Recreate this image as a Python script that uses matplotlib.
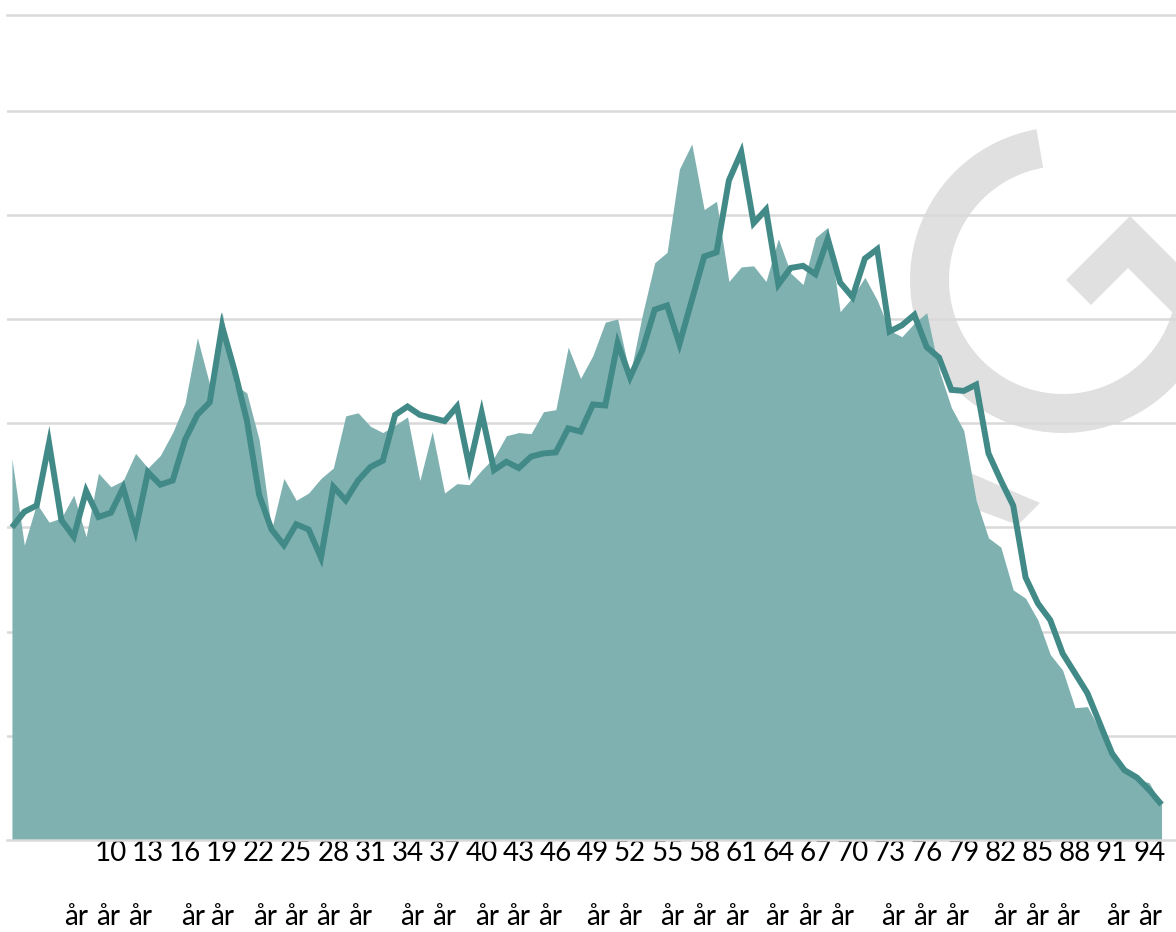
import numpy as np
import matplotlib
matplotlib.use("Agg")
import matplotlib.pyplot as plt
from matplotlib.patches import Wedge, Polygon

# ages 2..95 (one point per year)
ages = list(range(2, 96))

# filled series (light teal area)
area_vals = [3.66, 2.83, 3.23, 3.05, 3.09, 3.31, 2.91, 3.52, 3.39, 3.45,
             3.71, 3.57, 3.69, 3.91, 4.19, 4.82, 4.37, 5.07, 4.37, 4.29,
             3.84, 2.98, 3.47, 3.26, 3.33, 3.47, 3.57, 4.07, 4.10, 3.97,
             3.91, 3.98, 4.06, 3.45, 3.92, 3.33, 3.42, 3.41, 3.55, 3.67,
             3.88, 3.91, 3.90, 4.11, 4.13, 4.73, 4.43, 4.65, 4.97, 5.00,
             4.46, 5.04, 5.54, 5.64, 6.44, 6.68, 6.05, 6.13, 5.36, 5.50,
             5.51, 5.36, 5.77, 5.44, 5.33, 5.78, 5.88, 5.07, 5.21, 5.40,
             5.18, 4.89, 4.83, 4.96, 5.06, 4.51, 4.15, 3.93, 3.26, 2.90,
             2.81, 2.40, 2.32, 2.11, 1.78, 1.63, 1.27, 1.28, 1.06, 0.82,
             0.67, 0.58, 0.55, 0.34]

# line series (dark teal)
line_vals = [3.00, 3.15, 3.21, 3.81, 3.07, 2.91, 3.35, 3.10, 3.14, 3.38,
             2.97, 3.53, 3.41, 3.45, 3.84, 4.08, 4.20, 4.93, 4.51, 4.03,
             3.31, 2.98, 2.83, 3.03, 2.98, 2.71, 3.39, 3.26, 3.45, 3.58,
             3.64, 4.08, 4.16, 4.08, 4.05, 4.02, 4.16, 3.58, 4.10, 3.55,
             3.63, 3.57, 3.68, 3.71, 3.72, 3.95, 3.92, 4.18, 4.17, 4.77,
             4.44, 4.70, 5.09, 5.13, 4.76, 5.18, 5.60, 5.64, 6.33, 6.60,
             5.92, 6.05, 5.33, 5.49, 5.51, 5.43, 5.77, 5.35, 5.21, 5.58,
             5.67, 4.88, 4.94, 5.04, 4.73, 4.63, 4.32, 4.31, 4.37, 3.71,
             3.45, 3.21, 2.52, 2.27, 2.11, 1.79, 1.60, 1.41, 1.12, 0.83,
             0.67, 0.60, 0.48, 0.34]

tick_ages = list(range(10, 95, 3))
tick_labels = [str(a) for a in tick_ages]

# second row of the axis labels, as it sits in the picture (pixel x)
aar_x = [76, 108, 140, 193, 222, 265, 296, 328, 360, 412, 444, 487, 518, 550,
         598, 630, 672, 704, 737, 777, 810, 842, 893, 925, 957, 1005, 1037,
         1068, 1118, 1150]

W, H = 1176, 932
fig = plt.figure(figsize=(W / 100, H / 100), dpi=100)
plt.rcParams['font.family'] = ['Lato', 'DejaVu Sans']

# background watermark, drawn in pixel coordinates
wm = fig.add_axes([0, 0, 1, 1], zorder=-1)
wm.set_xlim(0, W)
wm.set_ylim(H, 0)
wm.set_axis_off()
grey = '#e0e0e0'
wm.add_patch(Wedge((1063, 280), 153, 15, 260, width=39, color=grey, lw=0))
wm.add_patch(Polygon([(1066, 280), (1130, 216), (1200, 286), (1176, 316),
                      (1128, 268), (1091, 305)], closed=True, color=grey, lw=0))
wm.add_patch(Polygon([(945, 462), (1040, 503), (1018, 525), (945, 498)],
                     closed=True, color=grey, lw=0))

ax = fig.add_axes([7 / W, (H - 840) / H, (W - 7) / W, 825 / H])
ax.patch.set_visible(False)

ax.fill_between(ages, area_vals, 0, color='#80b1b1', lw=0, zorder=2)
ax.plot(ages, line_vals, color='#418a87', lw=4.3, zorder=3,
        solid_joinstyle='miter', solid_capstyle='butt')

ax.set_xlim(1.6, 96.17)
ax.set_ylim(0, 825 / 104.2)
ax.set_yticks(range(1, 8))
ax.set_yticklabels([])
ax.grid(axis='y', color='#d9d9d9', lw=1.8)
ax.set_axisbelow(True)
for s in ['left', 'right']:
    ax.spines[s].set_visible(False)
for s in ['top', 'bottom']:
    ax.spines[s].set_color('#d9d9d9')
    ax.spines[s].set_linewidth(1.8)
ax.tick_params(axis='both', length=0)
ax.set_xticks(tick_ages)
ax.set_xticklabels(tick_labels, fontsize=20, color='black')
ax.tick_params(axis='x', pad=0)

for x in aar_x:
    fig.text(x / W, 1 - 917 / H, 'år', ha='center', va='center',
             fontsize=20, color='black')

fig.savefig('out.png', dpi=100)
